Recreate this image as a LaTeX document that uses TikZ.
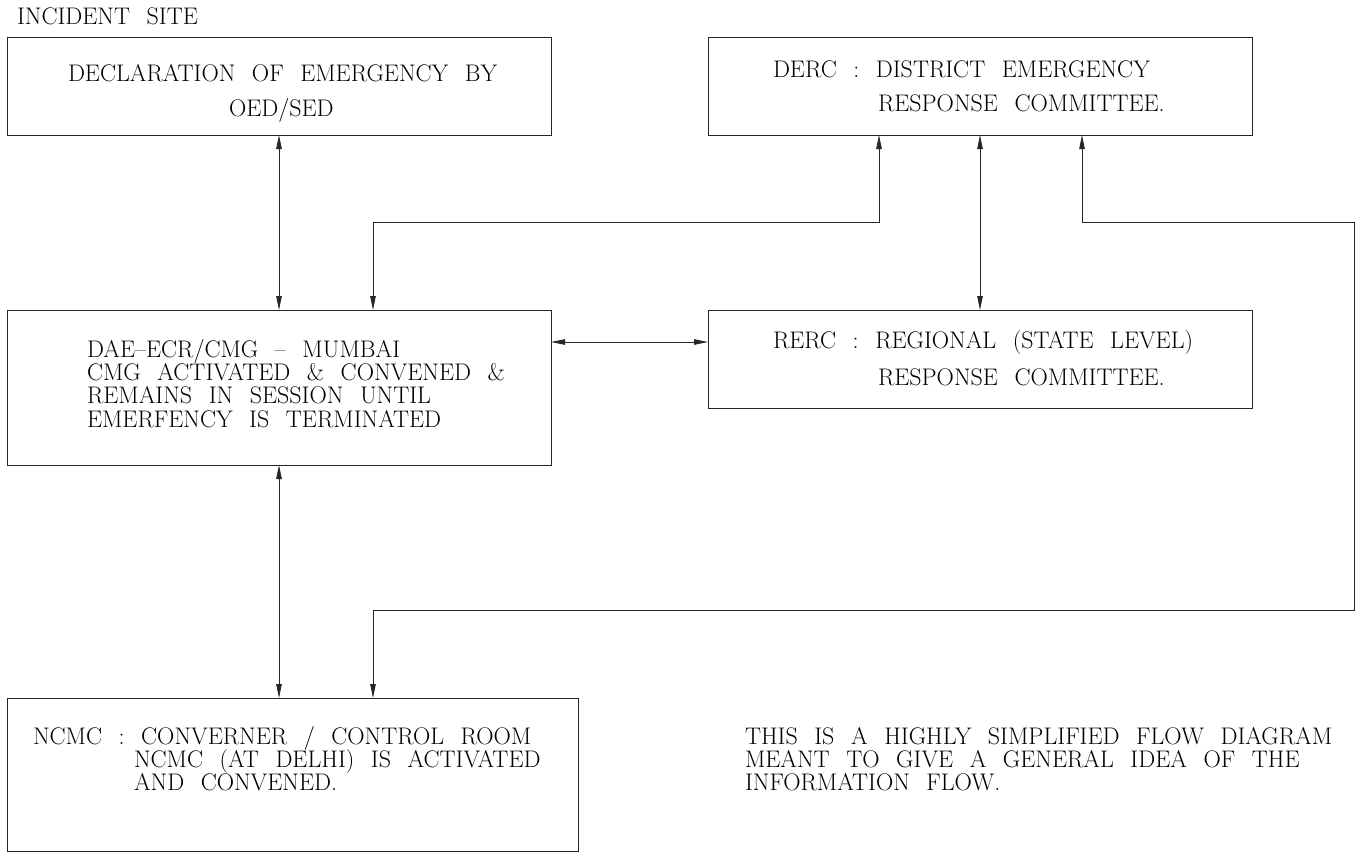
\documentclass[tikz,border=0pt]{standalone}
\usepackage{fontspec}
\usetikzlibrary{arrows.meta}
\newcommand\cadfont{\fontsize{24}{28}\selectfont\spaceskip 0.69em\relax}
\begin{document}
\begin{tikzpicture}[x=1pt,y=-1pt,
  box/.style={draw=black!85,line width=0.9pt,inner sep=0pt,outer sep=0pt,rectangle},
  txt/.style={anchor=base west,inner sep=0pt,outer sep=0pt,text=black,font=\cadfont},
  conn/.style={draw=black!85,line width=0.8pt,
    {Triangle[length=14pt,width=5.5pt]}-{Triangle[length=14pt,width=5.5pt]}}]
\useasboundingbox (0,0) rectangle (1359,854);
% boxes
\node[box,minimum width=544pt,minimum height=98pt] (decl) at (279,86) {};
\node[box,minimum width=544pt,minimum height=98pt] (derc) at (980,86) {};
\node[box,minimum width=544pt,minimum height=155pt] (dae) at (279,387.5) {};
\node[box,minimum width=544pt,minimum height=98pt] (rerc) at (980,359) {};
\node[box,minimum width=571pt,minimum height=153pt] (ncmc) at (292.5,774.5) {};
% texts
\node[txt] (t0) at (17,24) {INCIDENT SITE};
\node[txt] (t1a) at (68,81) {DECLARATION OF EMERGENCY BY};
\node[txt] (t1b) at (229,116) {OED/SED};
\node[txt] (t2a) at (773,77) {DERC : DISTRICT EMERGENCY};
\node[txt] (t2b) at (878,111) {RESPONSE COMMITTEE.};
\node[txt] (t3a) at (87,357) {DAE--ECR/CMG -- MUMBAI};
\node[txt] (t3b) at (87,380) {CMG ACTIVATED \& CONVENED \&};
\node[txt] (t3c) at (87,403) {REMAINS IN SESSION UNTIL};
\node[txt] (t3d) at (87,427) {EMERFENCY IS TERMINATED};
\node[txt] (t4a) at (773,348) {RERC : REGIONAL (STATE LEVEL)};
\node[txt] (t4b) at (878,385) {RESPONSE COMMITTEE.};
\node[txt] (t5a) at (33,744) {NCMC : CONVERNER / CONTROL ROOM};
\node[txt] (t5b) at (134,767) {NCMC (AT DELHI) IS ACTIVATED};
\node[txt] (t5c) at (134,790) {AND CONVENED.};
\node[txt] (t6a) at (745,744) {THIS IS A HIGHLY SIMPLIFIED FLOW DIAGRAM};
\node[txt] (t6b) at (745,767) {MEANT TO GIVE A GENERAL IDEA OF THE};
\node[txt] (t6c) at (745,790) {INFORMATION FLOW.};
% bend points
\coordinate (k1) at (373,222);
\coordinate (k2) at (879,222);
\coordinate (m1) at (1082,222);
\coordinate (m2) at (1354,222);
\coordinate (m3) at (1354,610);
\coordinate (m4) at (373,610);
\coordinate (h) at (0,342);
% connectors
\draw[conn] (decl.south) -- (dae.north);
\draw[conn] (dae.north -| k1) -- (k1) -- (k2) -- (derc.south -| k2);
\draw[conn] (derc.south) -- (rerc.north);
\draw[conn] (derc.south -| m1) -- (m1) -- (m2) -- (m3) -- (m4) -- (ncmc.north -| m4);
\draw[conn] (dae.east |- h) -- (rerc.west |- h);
\draw[conn] (dae.south) -- (dae.south |- ncmc.north);
\end{tikzpicture}
\end{document}
